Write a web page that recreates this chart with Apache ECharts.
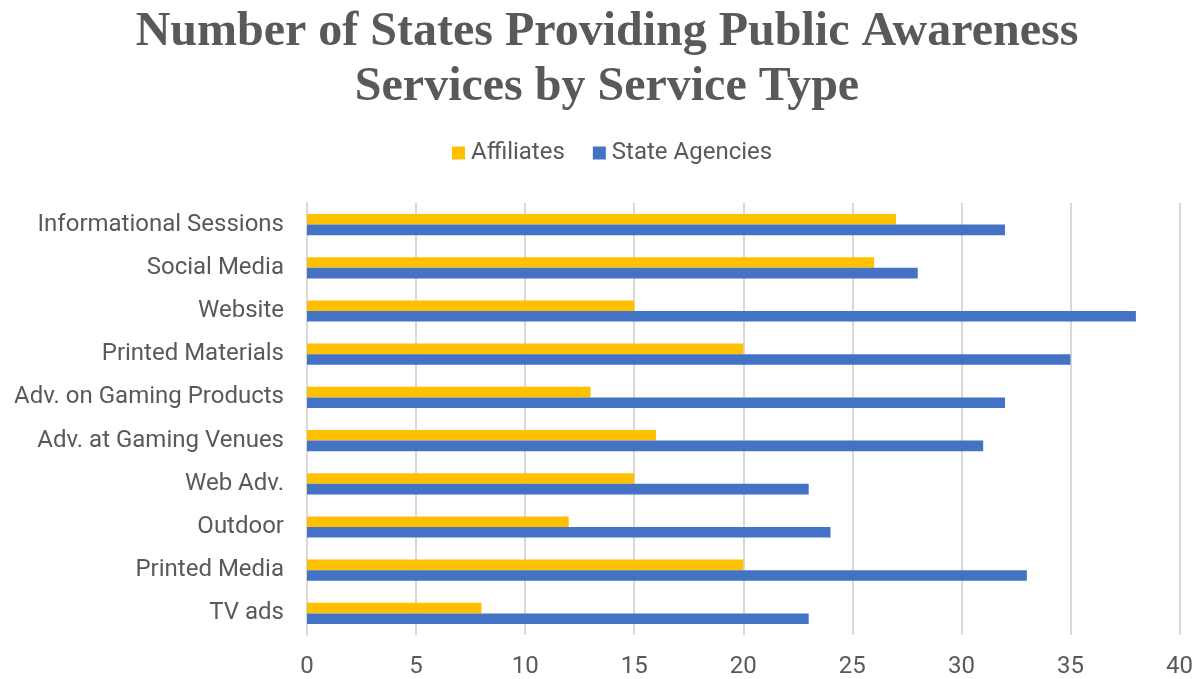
<!DOCTYPE html>
<html>
<head>
<meta charset="utf-8">
<script src="https://cdn.jsdelivr.net/npm/echarts@6/dist/echarts.min.js"></script>
<style>
  html, body { margin: 0; padding: 0; background: #fff; }
  #chart { width: 1196px; height: 679px; }
</style>
</head>
<body>
<div id="chart"></div>
<script>
var categories = ['TV ads', 'Printed Media', 'Outdoor', 'Web Adv.', 'Adv. at Gaming Venues',
  'Adv. on Gaming Products', 'Printed Materials', 'Website', 'Social Media', 'Informational Sessions'];
var affiliates = [8, 20, 12, 15, 16, 13, 20, 15, 26, 27];
var stateAgencies = [23, 33, 24, 23, 31, 32, 35, 38, 28, 32];
var xTicks = { min: 0, max: 40, interval: 5 };

var chart = echarts.init(document.getElementById('chart'));
chart.setOption({
  animation: false,
  title: {
    text: 'Number of States Providing Public Awareness\nServices by Service Type',
    left: 607,
    textAlign: 'center',
    top: 0,
    padding: [5, 0, 5, 0],
    textStyle: {
      fontFamily: 'Liberation Serif',
      fontWeight: 'bold',
      fontSize: 48,
      lineHeight: 55,
      color: '#595959'
    }
  },
  legend: {
    top: 136,
    left: 447,
    itemWidth: 13,
    itemHeight: 13,
    itemGap: 28,
    icon: 'rect',
    textStyle: { fontFamily: 'Roboto', fontSize: 24, color: '#595959', padding: [0, 0, 0, 1] },
    data: ['Affiliates', 'State Agencies']
  },
  grid: { left: 307, right: 16, top: 203, bottom: 43, containLabel: false },
  xAxis: {
    type: 'value',
    min: xTicks.min,
    max: xTicks.max,
    interval: xTicks.interval,
    axisLine: { show: false },
    axisTick: { show: false },
    splitLine: { lineStyle: { color: '#d9d9d9', width: 2 } },
    axisLabel: { fontFamily: 'Roboto', fontSize: 24, color: '#595959', margin: 20 }
  },
  yAxis: {
    type: 'category',
    data: categories,
    axisLine: { show: true, lineStyle: { color: '#d9d9d9', width: 2 } },
    axisTick: { show: false },
    axisLabel: { fontFamily: 'Roboto', fontSize: 24, color: '#595959', margin: 23 }
  },
  series: [
    {
      name: 'Affiliates',
      type: 'bar',
      data: affiliates,
      itemStyle: { color: '#FFC000' },
      barGap: '0%',
      barCategoryGap: '51%'
    },
    {
      name: 'State Agencies',
      type: 'bar',
      data: stateAgencies,
      itemStyle: { color: '#4472C4' },
      barGap: '0%',
      barCategoryGap: '51%'
    }
  ]
});
</script>
</body>
</html>
